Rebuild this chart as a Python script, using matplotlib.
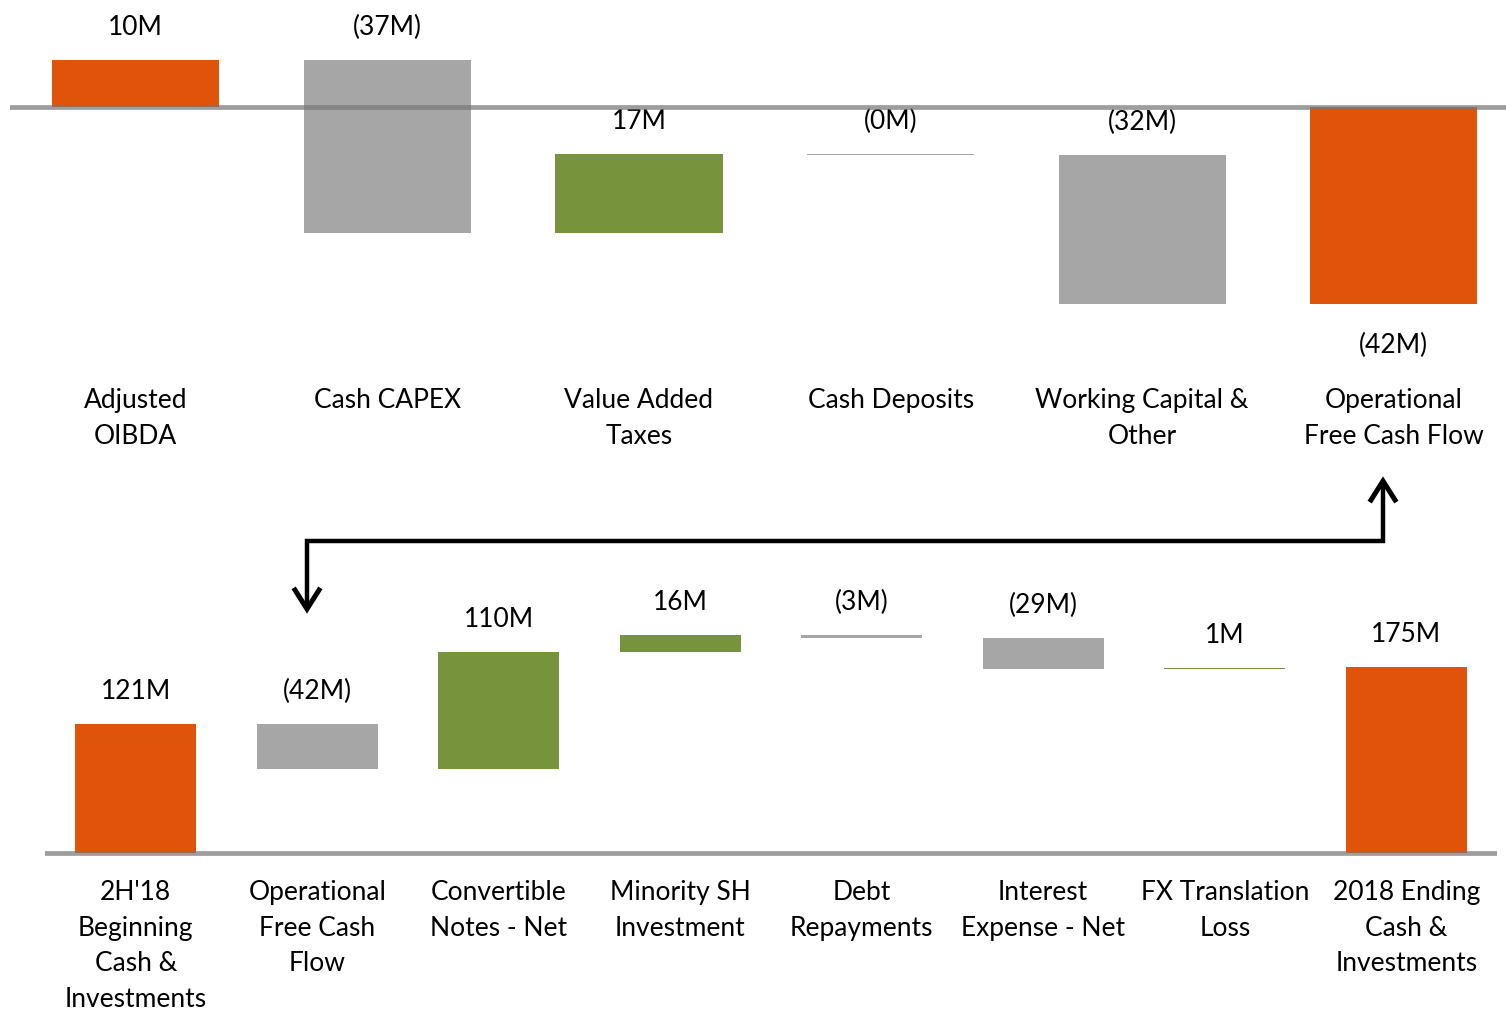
import matplotlib
matplotlib.use("Agg")
import matplotlib.pyplot as plt

plt.rcParams["font.family"] = ["Lato", "DejaVu Sans"]

ORANGE = "#E0530A"
GRAY = "#A6A6A6"
GREEN = "#77933C"

# --- data: upper waterfall (operational free cash flow build) ---
top_cats = ["Adjusted\nOIBDA", "Cash CAPEX", "Value Added\nTaxes", "Cash Deposits",
            "Working Capital &\nOther", "Operational\nFree Cash Flow"]
top_vals = [10, -37, 17, -0.2, -32, -42]
top_labels = ["10M", "(37M)", "17M", "(0M)", "(32M)", "(42M)"]
top_total = [True, False, False, False, False, True]

# --- data: lower waterfall (cash bridge) ---
bot_cats = ["2H'18\nBeginning\nCash &\nInvestments", "Operational\nFree Cash\nFlow",
            "Convertible\nNotes - Net", "Minority SH\nInvestment", "Debt\nRepayments",
            "Interest\nExpense - Net", "FX Translation\nLoss",
            "2018 Ending\nCash &\nInvestments"]
bot_vals = [121, -42, 110, 16, -3, -29, 1, 175]
bot_labels = ["121M", "(42M)", "110M", "16M", "(3M)", "(29M)", "1M", "175M"]
bot_total = [True, False, False, False, False, False, False, True]

W, H = 1506, 1013
FS = 19
PT = 0.72  # points per pixel at dpi 100

fig = plt.figure(figsize=(W / 100, H / 100), dpi=100)


def px_axes(l, t, r, b):
    return fig.add_axes([l / W, 1 - b / H, (r - l) / W, (b - t) / H])


def waterfall(ax, vals, labels, cats, totals, width, cat_off_px, line_px):
    run = 0
    for i, (v, lab, cat, tot) in enumerate(zip(vals, labels, cats, totals)):
        if tot:
            bottom, height, color = 0, v, ORANGE
            run = v
        else:
            bottom, height = run, v
            color = GREEN if v > 0 else GRAY
            run = run + v
        ax.bar(i, height, bottom=bottom, width=width, color=color, zorder=2)
        top = max(bottom, bottom + height)
        low = min(bottom, bottom + height)
        if tot and v < 0:
            ax.annotate(lab, (i, low), xytext=(0, -49 * PT), textcoords="offset points",
                        ha="center", va="baseline", fontsize=FS)
        else:
            ax.annotate(lab, (i, top), xytext=(0, 25 * PT), textcoords="offset points",
                        ha="center", va="baseline", fontsize=FS)
        for k, line in enumerate(cat.split("\n")):
            ax.annotate(line, (i, 0), xytext=(0, -(cat_off_px + k * line_px) * PT),
                        textcoords="offset points", ha="center", va="baseline",
                        fontsize=FS, annotation_clip=False)
    ax.axhline(0, color="#777777", lw=3.4, alpha=0.72, zorder=3)
    ax.axis("off")


# upper chart: baseline at y=107px, ~4.68 px per $M
ax1 = px_axes(10, 0, 1506, 470)
ax1.set_xlim(-0.5, -0.5 + (1506 - 10) / 251.6)
ax1.set_ylim(-(470 - 107) / 4.68, 107 / 4.68)
waterfall(ax1, top_vals, top_labels, top_cats, top_total, 0.665, 301, 36.5)

# lower chart: baseline at y=853px, ~1.062 px per $M
ax2 = px_axes(45, 470, 1497, 1013)
ax2.set_xlim(-0.5, 7.5)
ax2.set_ylim(-(1013 - 853) / 1.062, (853 - 470) / 1.062)
waterfall(ax2, bot_vals, bot_labels, bot_cats, bot_total, 0.667, 47, 35.5)

# connector arrow from upper "Operational Free Cash Flow" to lower one
ov = fig.add_axes([0, 0, 1, 1], zorder=5)
ov.set_xlim(0, W)
ov.set_ylim(H, 0)
ov.axis("off")
arrow_path = ([307, 307, 1383, 1383], [607, 541, 541, 483])
ov.plot(*arrow_path, color="black", lw=3.2, solid_joinstyle="miter", solid_capstyle="butt")
ov.plot([1371, 1383, 1395], [500, 481, 500], color="black", lw=3.6, solid_joinstyle="miter")
ov.plot([295, 307, 319], [590, 609, 590], color="black", lw=3.6, solid_joinstyle="miter")

fig.savefig("out.png", dpi=100)
